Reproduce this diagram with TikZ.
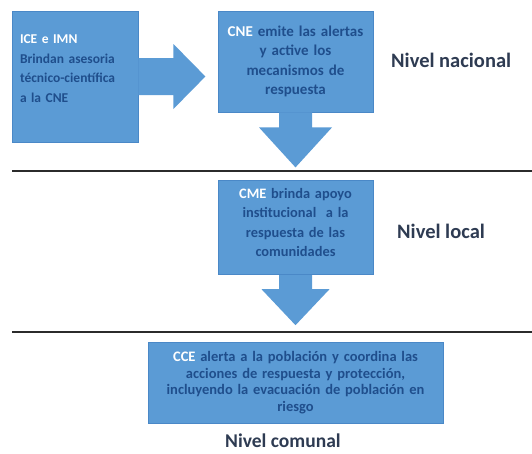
\documentclass[tikz,border=0pt]{standalone}
\usepackage{fontspec}
\setmainfont{Carlito}
\usepackage{tikz}
\usetikzlibrary{positioning,calc}

\definecolor{cajaazul}{HTML}{5B9BD5}
\definecolor{bordeazul}{HTML}{4A88C7}
\definecolor{textoazul}{HTML}{1F4E8C}
\definecolor{nivelgris}{HTML}{2E3B52}
\definecolor{lineagris}{HTML}{2B2B2B}

\begin{document}
\begin{tikzpicture}[x=1pt, y=-1pt,
    caja/.style={rectangle, draw=bordeazul, line width=0.8pt, fill=cajaazul, text=textoazul, font=\fontsize{15}{19.5}\selectfont\bfseries, inner sep=8pt},
    flecha/.style={fill=cajaazul, draw=none},
    nivel/.style={text=nivelgris, font=\fontsize{20.5}{24}\selectfont\bfseries, inner sep=0pt},
    separador/.style={draw=lineagris, line width=2.5pt}]

    \useasboundingbox (0,0) rectangle (532,453);

    % Nivel nacional
    \node[caja, minimum width=126pt, minimum height=131pt, text width=110pt, align=left, text depth=74.5pt, font=\fontsize{13.5}{19.5}\selectfont\bfseries] (ice) at (75,76.5) {\textcolor{white}{ICE e IMN}\\Brindan asesoria\\\mbox{técnico-científica}\\a la CNE};
    \node[caja, minimum width=155pt, minimum height=101pt, text width=139pt, align=center] (cne) at (295.5,61.5) {\textcolor{white}{CNE} emite las alertas\\y active los\\mecanismos de\\respuesta};
    \node[nivel, anchor=base west] (nacional) at (391,67) {Nivel nacional};

    % Flechas
    \fill[flecha] ($(ice.east)+(0,-18.5)$) -- ++(35,0) -- ++(0,-14) -- ($(ice.east)+(67,0)$) -- ($(ice.east)+(35,32.5)$) -- ++(0,-14) -- ($(ice.east)+(0,18.5)$) -- cycle;
    \fill[flecha] ($(cne.south)+(-16.5,0)$) -- ++(0,15) -- ++(-20,0) -- ($(cne.south)+(0,55)$) -- ($(cne.south)+(36.5,15)$) -- ++(-20,0) -- ($(cne.south)+(16.5,0)$) -- cycle;

    \draw[separador] (12,171) -- (532,171);

    % Nivel local
    \node[caja, minimum width=155pt, minimum height=91pt, text width=139pt, align=center, text depth=68.5pt, font=\fontsize{14.4}{19.5}\selectfont\bfseries] (cme) at (295.5,227.5) {\textcolor{white}{CME} brinda apoyo\\institucional~ a la\\respuesta de las\\comunidades};
    \node[nivel, anchor=base west] (local) at (397,238) {Nivel local};

    \fill[flecha] ($(cme.south)+(-16.5,0)$) -- ++(0,14) -- ++(-17.5,0) -- ($(cme.south)+(0,50)$) -- ($(cme.south)+(34,14)$) -- ++(-17.5,0) -- ($(cme.south)+(16.5,0)$) -- cycle;

    \draw[separador] (12,332) -- (532,332);

    % Nivel comunal
    \node[caja, minimum width=295pt, minimum height=81pt, text width=279pt, align=center, font=\fontsize{14.5}{16.5}\selectfont\bfseries] (cce) at (295.5,382.5) {\textcolor{white}{CCE} alerta a la población y coordina las\\acciones de respuesta y protección,\\incluyendo la evacuación de población en\\riesgo};
    \node[nivel, anchor=base west, font=\fontsize{19.5}{23}\selectfont\bfseries] (comunal) at (225,447.5) {Nivel comunal};

\end{tikzpicture}
\end{document}
